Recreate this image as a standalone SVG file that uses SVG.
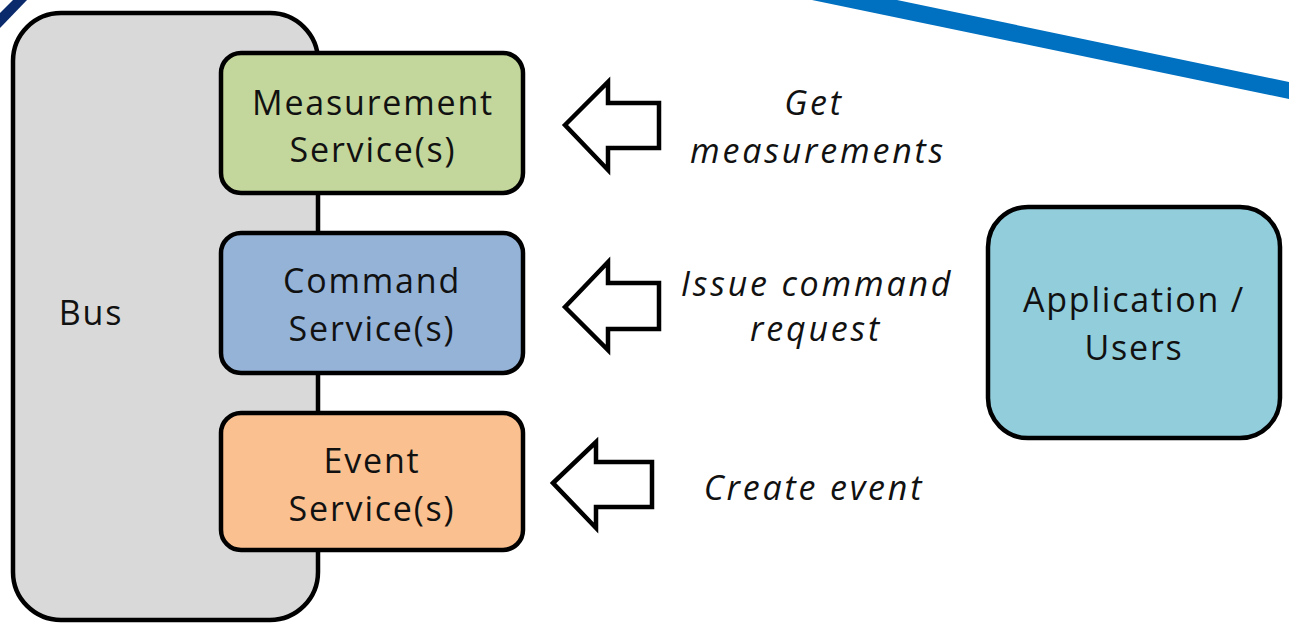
<svg xmlns="http://www.w3.org/2000/svg" width="1289" height="629" viewBox="0 0 1289 629">
<style>
.box{stroke:#000;stroke-width:4.5}
.t{font-family:"Open Sans","Liberation Sans",sans-serif;font-size:34px;fill:#111;text-anchor:middle;letter-spacing:1.8px}
.i{font-style:italic;letter-spacing:2.8px}
.arr{fill:#fff;stroke:#000;stroke-width:4.5;stroke-linejoin:miter}
</style>
<rect width="1289" height="629" fill="#fff"/>
<polygon points="13,0 27,0 0,28 0,13" fill="#0b2a6b"/>
<polygon points="812,0 897,0 1289,82 1289,99" fill="#0070c0"/>
<g id="bus">
<rect class="box" x="13" y="13" width="305" height="607" rx="48" fill="#d9d9d9"/>
<text class="t" x="91" y="325">Bus</text>
</g>
<g id="measurement">
<rect class="box" x="221" y="53" width="302" height="140" rx="20" fill="#c3d69b"/>
<text class="t" x="373" y="115">Measurement</text>
<text class="t" x="373" y="162">Service(s)</text>
</g>
<g id="command">
<rect class="box" x="221" y="233" width="302" height="140" rx="20" fill="#95b3d7"/>
<text class="t" x="372" y="293">Command</text>
<text class="t" x="372" y="341">Service(s)</text>
</g>
<g id="event">
<rect class="box" x="221" y="413" width="302" height="137" rx="20" fill="#fac090"/>
<text class="t" x="372" y="473">Event</text>
<text class="t" x="372" y="521">Service(s)</text>
</g>
<g id="application">
<rect class="box" x="988" y="207" width="292" height="231" rx="40" fill="#92cddc"/>
<text class="t" x="1134" y="312">Application /</text>
<text class="t" x="1134" y="360">Users</text>
</g>
<g id="connectors">
<polygon class="arr" points="565,125 608,82 608,103 659,103 659,148 608,148 608,170"/>
<polygon class="arr" points="565,307 608,262 608,283 659,283 659,329 608,329 608,350"/>
<polygon class="arr" points="553,483 596,442 596,462 652,462 652,507 596,507 596,528"/>
</g>
<g id="labels">
<text class="t i" x="814" y="115">Get</text>
<text class="t i" x="818" y="163">measurements</text>
<text class="t i" x="817" y="296">Issue command</text>
<text class="t i" x="816" y="341">request</text>
<text class="t i" x="814" y="500">Create event</text>
</g>
</svg>
